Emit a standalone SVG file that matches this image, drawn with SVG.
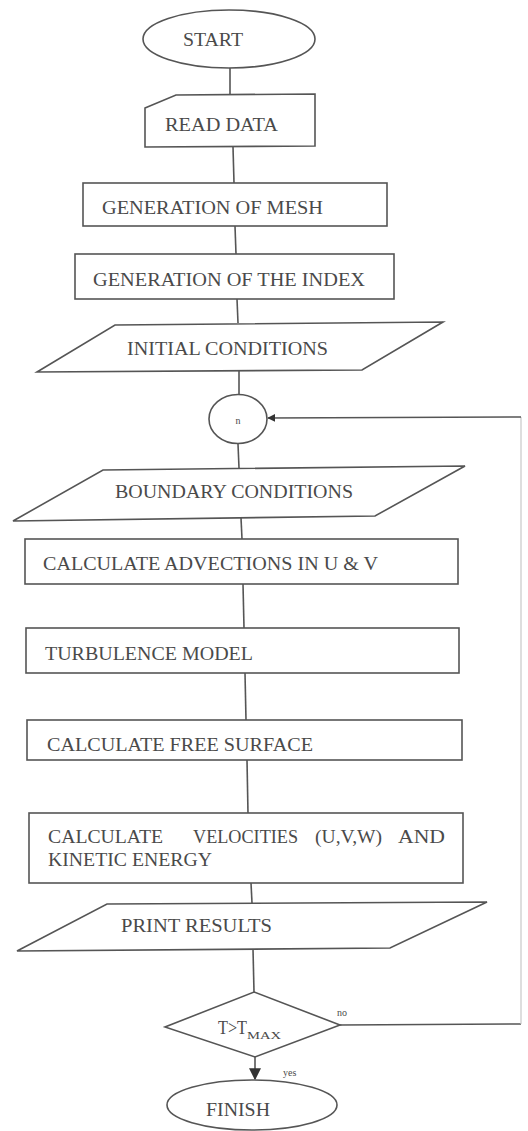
<svg xmlns="http://www.w3.org/2000/svg" width="528" height="1131" viewBox="0 0 528 1131">
<style>
.s{fill:#fff;stroke:#555;stroke-width:1.6}
.t{font-family:"Liberation Serif","Times New Roman",serif;font-size:18px;fill:#4a4a4a}
.sm{font-family:"Liberation Serif","Times New Roman",serif;font-size:10px;fill:#4a4a4a}
.c{fill:none;stroke:#555;stroke-width:1.6}
</style>
<defs>
<marker id="ah" viewBox="0 0 10 10" refX="9" refY="5" markerWidth="8" markerHeight="8" markerUnits="userSpaceOnUse" orient="auto">
<path d="M0,0 L10,5 L0,10 z" fill="#333"/>
</marker>
<marker id="ah2" viewBox="0 0 10 10" refX="9" refY="5" markerWidth="12" markerHeight="12" markerUnits="userSpaceOnUse" orient="auto">
<path d="M0,0 L10,5 L0,10 z" fill="#333"/>
</marker>
</defs>
<rect width="528" height="1131" fill="#fff"/>
<g id="connectors">
<line class="c" x1="230" y1="68" x2="230" y2="95"/>
<line class="c" x1="233" y1="147" x2="234" y2="183"/>
<line class="c" x1="235" y1="226" x2="236" y2="254"/>
<line class="c" x1="237" y1="299" x2="238" y2="323"/>
<line class="c" x1="239" y1="371" x2="239" y2="395"/>
<line class="c" x1="238" y1="444" x2="239" y2="468"/>
<line class="c" x1="241" y1="518" x2="242" y2="539"/>
<line class="c" x1="243" y1="584" x2="244" y2="628"/>
<line class="c" x1="245" y1="673" x2="246" y2="720"/>
<line class="c" x1="247" y1="760" x2="248" y2="813"/>
<line class="c" x1="251" y1="883" x2="252" y2="903"/>
<line class="c" x1="253" y1="949" x2="254" y2="992"/>
<line class="c" x1="255" y1="1057" x2="255" y2="1079" marker-end="url(#ah2)"/>
<line class="c" x1="340" y1="1025" x2="521" y2="1024"/>
<line x1="521" y1="1024" x2="521" y2="417" stroke="#c8c8c8" stroke-width="1.2"/>
<line class="c" x1="521" y1="417" x2="268" y2="418" marker-end="url(#ah)"/>
<text class="sm" x="337" y="1016">no</text>
<text class="sm" x="283" y="1076">yes</text>
</g>
<g id="start">
<ellipse class="s" cx="229" cy="39" rx="86" ry="29"/>
<text class="t" x="183" y="46" textLength="60" lengthAdjust="spacingAndGlyphs">START</text>
</g>
<g id="read-data">
<polygon class="s" points="145,108 176,95 315,94 315,146 145,147"/>
<text class="t" x="165" y="131" textLength="113" lengthAdjust="spacingAndGlyphs">READ DATA</text>
</g>
<g id="gen-mesh">
<rect class="s" x="83" y="183" width="304" height="43"/>
<text class="t" x="102" y="214" textLength="221" lengthAdjust="spacingAndGlyphs">GENERATION OF MESH</text>
</g>
<g id="gen-index">
<rect class="s" x="75" y="254" width="319" height="45"/>
<text class="t" x="93" y="286" textLength="272" lengthAdjust="spacingAndGlyphs">GENERATION OF THE INDEX</text>
</g>
<g id="initial">
<polygon class="s" points="115,325 443,322 362,370 37,372"/>
<text class="t" x="127" y="355" textLength="201" lengthAdjust="spacingAndGlyphs">INITIAL CONDITIONS</text>
</g>
<g id="n">
<ellipse class="s" cx="238" cy="419" rx="29" ry="24.5"/>
<text class="sm" x="238" y="424" text-anchor="middle" font-size="9">n</text>
</g>
<g id="boundary">
<polygon class="s" points="103,470 465,466 375,516 13,521"/>
<text class="t" x="115" y="498" textLength="238" lengthAdjust="spacingAndGlyphs">BOUNDARY CONDITIONS</text>
</g>
<g id="advections">
<rect class="s" x="25" y="539" width="433" height="45"/>
<text class="t" x="43" y="570" textLength="335" lengthAdjust="spacingAndGlyphs">CALCULATE ADVECTIONS IN U &amp; V</text>
</g>
<g id="turbulence">
<rect class="s" x="26" y="628" width="433" height="45"/>
<text class="t" x="45" y="660" textLength="208" lengthAdjust="spacingAndGlyphs">TURBULENCE MODEL</text>
</g>
<g id="free-surface">
<rect class="s" x="27" y="720" width="435" height="40"/>
<text class="t" x="47" y="751" textLength="266" lengthAdjust="spacingAndGlyphs">CALCULATE FREE SURFACE</text>
</g>
<g id="velocities">
<rect class="s" x="29" y="813" width="434" height="70"/>
<text class="t" y="843"><tspan x="48" textLength="115" lengthAdjust="spacingAndGlyphs">CALCULATE</tspan><tspan x="193" textLength="105" lengthAdjust="spacingAndGlyphs">VELOCITIES</tspan><tspan x="315" textLength="67" lengthAdjust="spacingAndGlyphs">(U,V,W)</tspan><tspan x="398" textLength="47" lengthAdjust="spacingAndGlyphs">AND</tspan></text>
<text class="t" x="48" y="866" textLength="164" lengthAdjust="spacingAndGlyphs">KINETIC ENERGY</text>
</g>
<g id="print">
<polygon class="s" points="107,904 487,902 390,948 17,951"/>
<text class="t" x="121" y="932" textLength="151" lengthAdjust="spacingAndGlyphs">PRINT RESULTS</text>
</g>
<g id="decision">
<polygon class="s" points="254,992 340,1025 255,1057 165,1027"/>
<text class="t" x="218" y="1034" textLength="29" lengthAdjust="spacingAndGlyphs">T&gt;T</text>
<text class="sm" x="247" y="1039" font-size="9" textLength="34" lengthAdjust="spacingAndGlyphs">MAX</text>
</g>
<g id="finish">
<ellipse class="s" cx="252" cy="1105" rx="85" ry="25"/>
<text class="t" x="206" y="1116" textLength="64" lengthAdjust="spacingAndGlyphs">FINISH</text>
</g>
</svg>
